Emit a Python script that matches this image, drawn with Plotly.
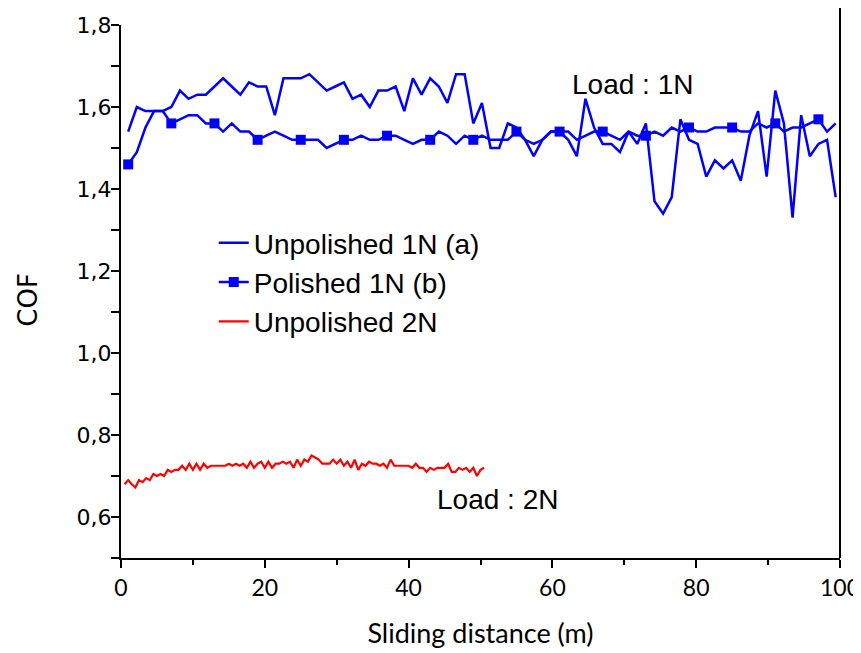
import plotly.graph_objects as go

# Sliding distance (m) for the 1N tests
distance_1n = [1.0, 2.2, 3.4, 4.6, 5.8, 7.0, 8.2, 9.4, 10.6, 11.8,
               13.0, 14.2, 15.4, 16.6, 17.8, 19.0, 20.2, 21.4, 22.6, 23.8,
               25.0, 26.2, 27.4, 28.6, 29.8, 31.0, 32.2, 33.4, 34.6, 35.8,
               37.0, 38.2, 39.4, 40.6, 41.8, 43.0, 44.2, 45.4, 46.6, 47.8,
               49.0, 50.2, 51.4, 52.6, 53.8, 55.0, 56.2, 57.4, 58.6, 59.8,
               61.0, 62.2, 63.4, 64.6, 65.8, 67.0, 68.2, 69.4, 70.6, 71.8,
               73.0, 74.2, 75.4, 76.6, 77.8, 79.0, 80.2, 81.4, 82.6, 83.8,
               85.0, 86.2, 87.4, 88.6, 89.8, 91.0, 92.2, 93.4, 94.6, 95.8,
               97.0, 98.2, 99.4]

cof_unpolished_1n = [1.54, 1.60, 1.59, 1.59, 1.59, 1.60, 1.64, 1.62, 1.63, 1.63,
                     1.65, 1.67, 1.65, 1.63, 1.66, 1.65, 1.65, 1.58, 1.67, 1.67,
                     1.67, 1.68, 1.66, 1.64, 1.65, 1.66, 1.62, 1.63, 1.60, 1.64,
                     1.64, 1.65, 1.59, 1.67, 1.63, 1.67, 1.65, 1.61, 1.68, 1.68,
                     1.56, 1.61, 1.50, 1.50, 1.56, 1.55, 1.52, 1.48, 1.52, 1.54,
                     1.54, 1.52, 1.48, 1.62, 1.55, 1.51, 1.51, 1.49, 1.54, 1.51,
                     1.56, 1.37, 1.34, 1.38, 1.57, 1.52, 1.51, 1.43, 1.47, 1.45,
                     1.47, 1.42, 1.53, 1.59, 1.43, 1.64, 1.56, 1.33, 1.58, 1.48,
                     1.51, 1.52, 1.38]

cof_polished_1n = [1.46, 1.49, 1.55, 1.59, 1.59, 1.56, 1.57, 1.58, 1.58, 1.56,
                   1.56, 1.54, 1.56, 1.54, 1.54, 1.52, 1.53, 1.54, 1.53, 1.52,
                   1.52, 1.52, 1.52, 1.50, 1.51, 1.52, 1.52, 1.53, 1.52, 1.52,
                   1.53, 1.53, 1.52, 1.51, 1.52, 1.52, 1.54, 1.53, 1.51, 1.53,
                   1.52, 1.53, 1.52, 1.52, 1.52, 1.54, 1.52, 1.51, 1.52, 1.54,
                   1.54, 1.54, 1.52, 1.53, 1.54, 1.54, 1.53, 1.52, 1.54, 1.53,
                   1.53, 1.54, 1.53, 1.55, 1.54, 1.55, 1.54, 1.54, 1.55, 1.55,
                   1.55, 1.54, 1.54, 1.56, 1.55, 1.56, 1.54, 1.55, 1.55, 1.56,
                   1.57, 1.54, 1.56]

marker_every = 5

# Sliding distance (m) for the 2N test
distance_2n = [0.5, 1.0, 1.5, 2.0, 2.5, 3.0, 3.5, 4.0, 4.5, 5.0,
               5.5, 6.0, 6.5, 7.0, 7.5, 8.0, 8.5, 9.0, 9.5, 10.0,
               10.5, 11.0, 11.5, 12.0, 12.5, 13.0, 13.5, 14.0, 14.5, 15.0,
               15.5, 16.0, 16.5, 17.0, 17.5, 18.0, 18.5, 19.0, 19.5, 20.0,
               20.5, 21.0, 21.5, 22.0, 22.5, 23.0, 23.5, 24.0, 24.5, 25.0,
               25.5, 26.0, 26.5, 27.0, 27.5, 28.0, 28.5, 29.0, 29.5, 30.0,
               30.5, 31.0, 31.5, 32.0, 32.5, 33.0, 33.5, 34.0, 34.5, 35.0,
               35.5, 36.0, 36.5, 37.0, 37.5, 38.0, 38.5, 39.0, 39.5, 40.0,
               40.5, 41.0, 41.5, 42.0, 42.5, 43.0, 43.5, 44.0, 44.5, 45.0,
               45.5, 46.0, 46.5, 47.0, 47.5, 48.0, 48.5, 49.0, 49.5, 50.0,
               50.5]

cof_unpolished_2n = [0.680, 0.690, 0.680, 0.672, 0.690, 0.685, 0.695, 0.690, 0.705, 0.700,
                     0.705, 0.700, 0.715, 0.710, 0.715, 0.715, 0.725, 0.715, 0.730, 0.715,
                     0.730, 0.715, 0.730, 0.720, 0.725, 0.725, 0.725, 0.725, 0.725, 0.730,
                     0.725, 0.730, 0.725, 0.730, 0.720, 0.735, 0.720, 0.730, 0.735, 0.720,
                     0.735, 0.720, 0.730, 0.730, 0.735, 0.730, 0.735, 0.720, 0.740, 0.725,
                     0.740, 0.735, 0.750, 0.745, 0.740, 0.730, 0.730, 0.730, 0.740, 0.730,
                     0.740, 0.725, 0.735, 0.720, 0.740, 0.715, 0.730, 0.725, 0.735, 0.730,
                     0.730, 0.725, 0.730, 0.720, 0.740, 0.725, 0.725, 0.725, 0.725, 0.725,
                     0.720, 0.730, 0.720, 0.720, 0.710, 0.720, 0.715, 0.720, 0.720, 0.720,
                     0.730, 0.710, 0.710, 0.720, 0.715, 0.720, 0.710, 0.720, 0.700, 0.715,
                     0.720]

x_ticks = [0, 20, 40, 60, 80, 100]
y_ticks = [0.6, 0.8, 1.0, 1.2, 1.4, 1.6, 1.8]

BLUE = "#0000FF"
RED = "#FF0000"

fig = go.Figure()

fig.add_trace(go.Scatter(
    x=distance_1n, y=cof_unpolished_1n, mode="lines",
    name="Unpolished 1N (a)", line=dict(color=BLUE, width=2.5),
))
# polished: line through all points, squares on every 5th point
fig.add_trace(go.Scatter(
    x=distance_1n, y=cof_polished_1n, mode="lines",
    line=dict(color=BLUE, width=2.5), showlegend=False, legendgroup="pol",
))
fig.add_trace(go.Scatter(
    x=distance_1n[::marker_every], y=cof_polished_1n[::marker_every], mode="markers",
    marker=dict(symbol="square", size=10, color=BLUE), showlegend=False, legendgroup="pol",
))
fig.add_trace(go.Scatter(
    x=[None], y=[None], mode="lines+markers", name="Polished 1N (b)",
    line=dict(color=BLUE, width=2.5), marker=dict(symbol="square", size=10, color=BLUE),
    legendgroup="pol",
))
fig.add_trace(go.Scatter(
    x=distance_2n, y=cof_unpolished_2n, mode="lines",
    name="Unpolished 2N", line=dict(color=RED, width=2.2),
))

fig.add_annotation(x=71.2, y=1.655, text="Load : 1N", showarrow=False,
                   font=dict(family="Liberation Sans, Arial", size=28, color="black"))
fig.add_annotation(x=52.3, y=0.642, text="Load : 2N", showarrow=False,
                   font=dict(family="Liberation Sans, Arial", size=28, color="black"))
# y-axis title
fig.add_annotation(xref="paper", yref="paper", x=-0.129, y=0.485, text="COF",
                   textangle=-90, showarrow=False, xanchor="center", yanchor="middle",
                   font=dict(family="DejaVu Sans, Verdana, sans-serif", size=26, color="black"))

# right frame line (extends above the plotting area like the cropped original)
fig.add_shape(type="line", xref="paper", yref="paper", x0=1, x1=1, y0=0, y1=1.04,
              line=dict(color="black", width=2))

# the page body adds an 8px offset, so the figure is 853x645 inside the 861x653 window
fig.update_layout(
    width=853, height=645,
    margin=dict(l=113, r=21, t=17, b=95, autoexpand=False),
    paper_bgcolor="white", plot_bgcolor="white",
    separators=", ",
    showlegend=True,
    legend=dict(
        x=0.129, y=0.638, xanchor="left", yanchor="top",
        font=dict(family="Liberation Sans, Arial", size=28, color="black"),
        bgcolor="rgba(0,0,0,0)", itemwidth=30, tracegroupgap=0,
    ),
    xaxis=dict(
        range=[0, 100], tickvals=x_ticks, showgrid=False, zeroline=False, automargin=False,
        showline=True, linecolor="black", linewidth=2,
        ticks="outside", ticklen=8, tickwidth=2, tickcolor="black",
        ticklabeloverflow="allow",
        minor=dict(dtick=10, ticks="outside", ticklen=5, tickwidth=2, tickcolor="black", showgrid=False),
        tickfont=dict(family="Lato, Carlito, sans-serif", size=23, color="black"),
        title=dict(text="Sliding distance (m)", standoff=25,
                   font=dict(family="Lato, Carlito, sans-serif", size=27, color="black")),
    ),
    yaxis=dict(
        range=[0.5, 1.8], tickvals=y_ticks, tickformat=".1f", showgrid=False, zeroline=False,
        automargin=False,
        showline=True, linecolor="black", linewidth=2,
        ticks="outside", ticklen=8, tickwidth=2, tickcolor="black",
        ticklabelstandoff=-5,
        minor=dict(dtick=0.1, tick0=0.5, ticks="outside", ticklen=8, tickwidth=2, tickcolor="black", showgrid=False),
        tickfont=dict(family="DejaVu Sans, Verdana, sans-serif", size=22, color="black"),
    ),
)

fig.write_html("out.html")
